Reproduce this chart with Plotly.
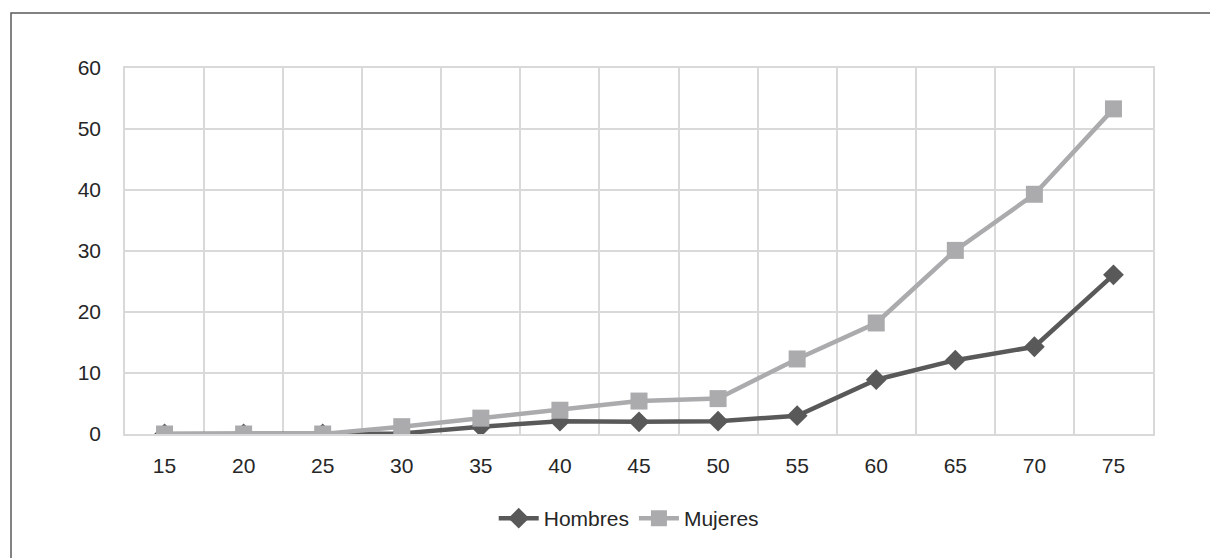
import plotly.graph_objects as go

# Age groups and rates per series
edades = ["15", "20", "25", "30", "35", "40", "45", "50", "55", "60", "65", "70", "75"]
hombres = [0, 0, 0, 0.1, 1.2, 2.1, 2.0, 2.1, 3.0, 8.9, 12.1, 14.3, 26.1]
mujeres = [0, 0, 0, 1.2, 2.6, 3.9, 5.4, 5.8, 12.3, 18.2, 30.1, 39.3, 53.3]
y_ticks = [0, 10, 20, 30, 40, 50, 60]

W, H = 1210, 558
L, R, T, B = 125, 57, 68, 124
pw, ph = W - L - R, H - T - B

fig = go.Figure()
fig.add_trace(go.Scatter(
    x=edades, y=hombres, name="Hombres", mode="lines+markers",
    line=dict(color="#595959", width=4.5),
    marker=dict(symbol="diamond", size=16, color="#595959"),
))
fig.add_trace(go.Scatter(
    x=edades, y=mujeres, name="Mujeres", mode="lines+markers",
    line=dict(color="#ABABAE", width=4.5),
    marker=dict(symbol="square", size=17, color="#ABABAE"),
))

font = dict(family="Liberation Sans, Arial, sans-serif", size=21, color="#262626")

# outer frame of the chart area
fig.add_shape(
    type="rect", xref="paper", yref="paper",
    x0=(11 - L) / pw, x1=(W + 20 - L) / pw,
    y0=-(B + 20) / ph, y1=(T - 13) / ph + 1,
    line=dict(color="#5a5a5a", width=1.5), layer="below",
)

fig.update_layout(
    width=W, height=H,
    margin=dict(l=L, r=R, t=T, b=B),
    paper_bgcolor="white", plot_bgcolor="white",
    font=font,
    showlegend=True,
    legend=dict(orientation="h", x=0.49, xanchor="center", y=-0.175, yanchor="top",
                font=font, itemwidth=40, traceorder="normal"),
    xaxis=dict(
        type="category", tickson="boundaries", range=[-0.5, 12.5],
        showgrid=True, gridcolor="#d9d9d9", gridwidth=1.5,
        showline=True, linecolor="#d9d9d9", linewidth=1.5, mirror=True,
        ticks="", tickfont=font, ticklabelstandoff=12,
    ),
    yaxis=dict(
        range=[0, 60], tickvals=y_ticks,
        showgrid=True, gridcolor="#d9d9d9", gridwidth=1.5,
        showline=True, linecolor="#d9d9d9", linewidth=1.5, mirror=True,
        zeroline=False, ticks="", tickfont=font, ticklabelstandoff=18,
    ),
)

fig.write_html("out.html")
